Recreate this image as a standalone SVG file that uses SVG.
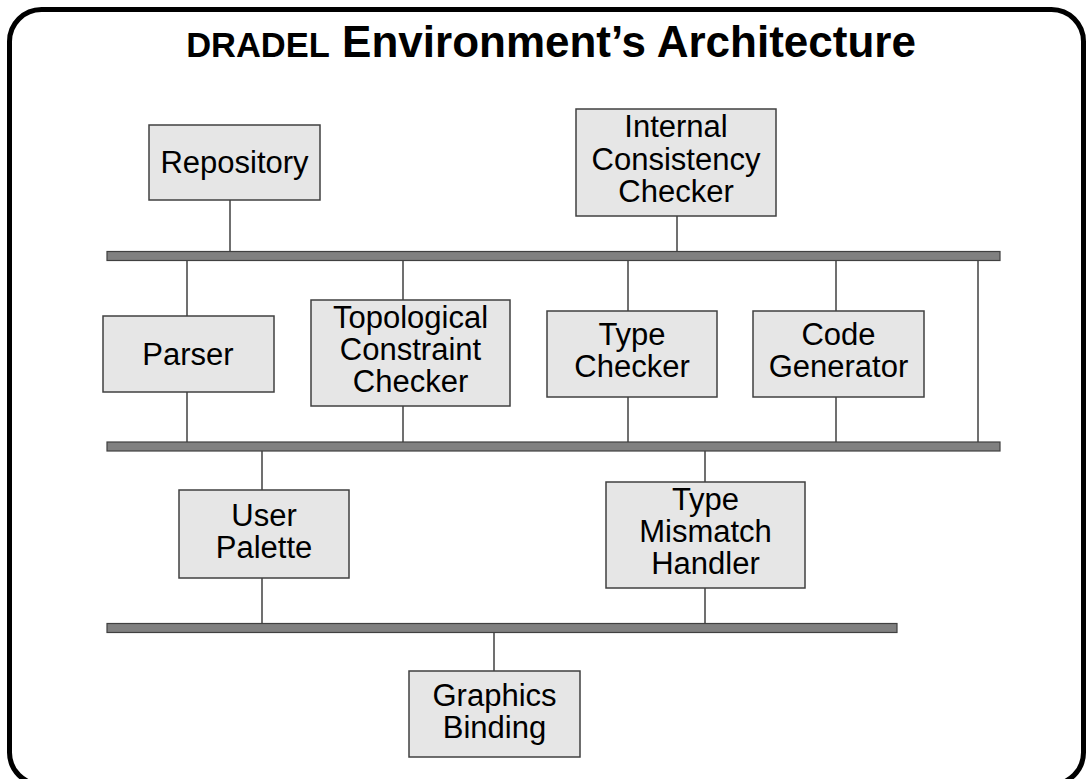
<svg xmlns="http://www.w3.org/2000/svg" width="1090" height="779" viewBox="0 0 1090 779">
  <style>
    .frame { fill: #ffffff; stroke: #000000; stroke-width: 5; }
    .bus { fill: #808080; stroke: #404040; stroke-width: 1.2; }
    .wire { stroke: #404040; stroke-width: 1.5; fill: none; }
    .box { fill: #e6e6e6; stroke: #404040; stroke-width: 1.5; }
    .lbl { font-family: "Liberation Sans", Arial, sans-serif; font-size: 31px; fill: #000000; text-anchor: middle; }
    .title { font-family: "Liberation Sans", Arial, sans-serif; font-weight: bold; fill: #000000; }
  </style>

  <!-- outer frame -->
  <rect class="frame" x="9.5" y="9.5" width="1074" height="775" rx="32" ry="32"/>

  <!-- heading -->
  <text class="title" x="551" y="57" text-anchor="middle"><tspan font-size="34.5">DRADEL</tspan><tspan font-size="44"> Environment’s Architecture</tspan></text>

  <!-- buses and connectors -->
  <g id="connectors">
    <line class="wire" x1="230" y1="200" x2="230" y2="252"/>
    <line class="wire" x1="677" y1="216" x2="677" y2="252"/>
    <line class="wire" x1="187" y1="260" x2="187" y2="316"/>
    <line class="wire" x1="187" y1="392" x2="187" y2="442"/>
    <line class="wire" x1="403" y1="260" x2="403" y2="300"/>
    <line class="wire" x1="403" y1="406" x2="403" y2="442"/>
    <line class="wire" x1="628" y1="260" x2="628" y2="311"/>
    <line class="wire" x1="628" y1="397" x2="628" y2="442"/>
    <line class="wire" x1="836" y1="260" x2="836" y2="311"/>
    <line class="wire" x1="836" y1="397" x2="836" y2="442"/>
    <line class="wire" x1="978" y1="260" x2="978" y2="442"/>
    <line class="wire" x1="262" y1="450" x2="262" y2="490"/>
    <line class="wire" x1="262" y1="578" x2="262" y2="624"/>
    <line class="wire" x1="705" y1="450" x2="705" y2="482"/>
    <line class="wire" x1="705" y1="588" x2="705" y2="624"/>
    <line class="wire" x1="494" y1="632" x2="494" y2="671"/>
    <rect class="bus" x="107" y="251.5" width="893" height="9"/>
    <rect class="bus" x="107" y="442" width="893" height="9"/>
    <rect class="bus" x="107" y="623.5" width="790" height="9"/>
  </g>

  <g id="repository">
    <rect class="box" x="149" y="125" width="171" height="75"/>
    <text class="lbl" x="234.5" y="173">Repository</text>
  </g>

  <g id="internal-consistency-checker">
    <rect class="box" x="576" y="109" width="200" height="107"/>
    <text class="lbl" x="676" y="137">Internal</text>
    <text class="lbl" x="676" y="170">Consistency</text>
    <text class="lbl" x="676" y="202">Checker</text>
  </g>

  <g id="parser">
    <rect class="box" x="103" y="316" width="171" height="76"/>
    <text class="lbl" x="188" y="365">Parser</text>
  </g>

  <g id="topological-constraint-checker">
    <rect class="box" x="311" y="300" width="199" height="106"/>
    <text class="lbl" x="410.5" y="328">Topological</text>
    <text class="lbl" x="410.5" y="360">Constraint</text>
    <text class="lbl" x="410.5" y="392">Checker</text>
  </g>

  <g id="type-checker">
    <rect class="box" x="547" y="311" width="170" height="86"/>
    <text class="lbl" x="632" y="345">Type</text>
    <text class="lbl" x="632" y="377">Checker</text>
  </g>

  <g id="code-generator">
    <rect class="box" x="753" y="311" width="171" height="86"/>
    <text class="lbl" x="838.5" y="345">Code</text>
    <text class="lbl" x="838.5" y="377">Generator</text>
  </g>

  <g id="user-palette">
    <rect class="box" x="179" y="490" width="170" height="88"/>
    <text class="lbl" x="264" y="526">User</text>
    <text class="lbl" x="264" y="558">Palette</text>
  </g>

  <g id="type-mismatch-handler">
    <rect class="box" x="606" y="482" width="199" height="106"/>
    <text class="lbl" x="705.5" y="510">Type</text>
    <text class="lbl" x="705.5" y="542">Mismatch</text>
    <text class="lbl" x="705.5" y="574">Handler</text>
  </g>

  <g id="graphics-binding">
    <rect class="box" x="409" y="671" width="171" height="86"/>
    <text class="lbl" x="494.5" y="706">Graphics</text>
    <text class="lbl" x="494.5" y="738">Binding</text>
  </g>
</svg>
